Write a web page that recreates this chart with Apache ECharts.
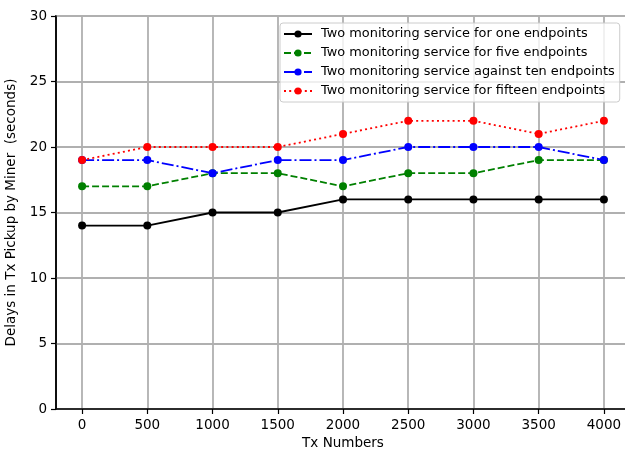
<!DOCTYPE html>
<html>
<head>
<meta charset="utf-8">
<script src="https://cdn.jsdelivr.net/npm/echarts@6/dist/echarts.min.js"></script>
<style>
  html, body { margin: 0; padding: 0; background: #fff; }
  #chart { width: 625px; height: 450px; }
</style>
</head>
<body>
<div id="chart"></div>
<script>
// Transaction counts on the x axis
const txNumbers = [0, 500, 1000, 1500, 2000, 2500, 3000, 3500, 4000];
// Pickup delays (seconds) per monitoring setup
const oneEndpoint = [14, 14, 15, 15, 16, 16, 16, 16, 16];
const fiveEndpoints = [17, 17, 18, 18, 17, 18, 18, 19, 19];
const tenEndpoints = [19, 19, 18, 19, 19, 20, 20, 20, 19];
const fifteenEndpoints = [19, 20, 20, 20, 21, 22, 22, 21, 22];
const seriesNames = [
  'Two monitoring service for one endpoints',
  'Two monitoring service for five endpoints',
  'Two monitoring service against ten endpoints',
  'Two monitoring service for fifteen endpoints'
];
const yTicks = [0, 5, 10, 15, 20, 25, 30];

const FONT = 'DejaVu Sans';
const pairs = arr => txNumbers.map((x, i) => [x, arr[i]]);

function lineSeries(name, values, color, dash, z) {
  return {
    name: name,
    type: 'line',
    data: pairs(values),
    symbol: 'circle',
    symbolSize: 8,
    showSymbol: true,
    z: z,
    itemStyle: { color: color, borderWidth: 0 },
    lineStyle: { color: color, width: 1.8, type: dash, cap: 'butt' },
    emphasis: { disabled: true },
    animation: false
  };
}

const chart = echarts.init(document.getElementById('chart'), null, { renderer: 'canvas' });
chart.setOption({
  backgroundColor: '#fff',
  animation: false,
  grid: {
    left: 56, right: -5, top: 16, bottom: 41,
    outerBoundsMode: 'none',
    show: true, borderColor: '#000', borderWidth: 1.5, backgroundColor: 'transparent'
  },
  legend: {
    orient: 'vertical',
    left: 280, top: 23,
    data: seriesNames,
    itemWidth: 28, itemHeight: 9, itemGap: 5,
    padding: [4, 5, 4, 3],
    backgroundColor: 'rgba(255,255,255,0.8)',
    borderColor: '#cccccc', borderWidth: 1, borderRadius: 3,
    textStyle: { fontFamily: FONT, fontSize: 12.9, color: '#000', padding: [0, 0, 0, 4], lineHeight: 14 }
  },
  xAxis: {
    type: 'value',
    min: -200, max: 4200,
    name: 'Tx Numbers',
    nameLocation: 'middle',
    nameGap: 26,
    nameTextStyle: { fontFamily: FONT, fontSize: 13.5, color: '#000' },
    axisLine: { show: true, onZero: false, lineStyle: { color: '#000', width: 1.5 } },
    axisTick: { show: true, length: 5, customValues: txNumbers, lineStyle: { color: '#000', width: 1.2 } },
    axisLabel: {
      customValues: txNumbers, fontFamily: FONT, fontSize: 13.5, color: '#000', margin: 9,
      formatter: v => String(v)
    },
    splitLine: { show: true, lineStyle: { color: '#b0b0b0', width: 1.8 } }
  },
  yAxis: {
    type: 'value',
    min: 0, max: 30, interval: 5,
    name: 'Delays in Tx Pickup by Miner  (seconds)',
    nameLocation: 'middle',
    nameGap: 31,
    nameTextStyle: { fontFamily: FONT, fontSize: 13.5, color: '#000' },
    axisLine: { show: true, onZero: false, lineStyle: { color: '#000', width: 1.5 } },
    axisTick: { show: true, length: 5, lineStyle: { color: '#000', width: 1.2 } },
    axisLabel: {
      fontFamily: FONT, fontSize: 13.5, color: '#000', margin: 9,
      formatter: v => (yTicks.indexOf(v) >= 0 ? String(v) : '')
    },
    splitLine: { show: true, lineStyle: { color: '#b0b0b0', width: 1.8 } }
  },
  series: [
    lineSeries(seriesNames[0], oneEndpoint, '#000000', 'solid', 2),
    lineSeries(seriesNames[1], fiveEndpoints, '#008000', [7, 3], 3),
    lineSeries(seriesNames[2], tenEndpoints, '#0000ff', [12, 3, 2, 3], 4),
    lineSeries(seriesNames[3], fifteenEndpoints, '#ff0000', [2, 3.2], 5)
  ]
});
</script>
</body>
</html>
